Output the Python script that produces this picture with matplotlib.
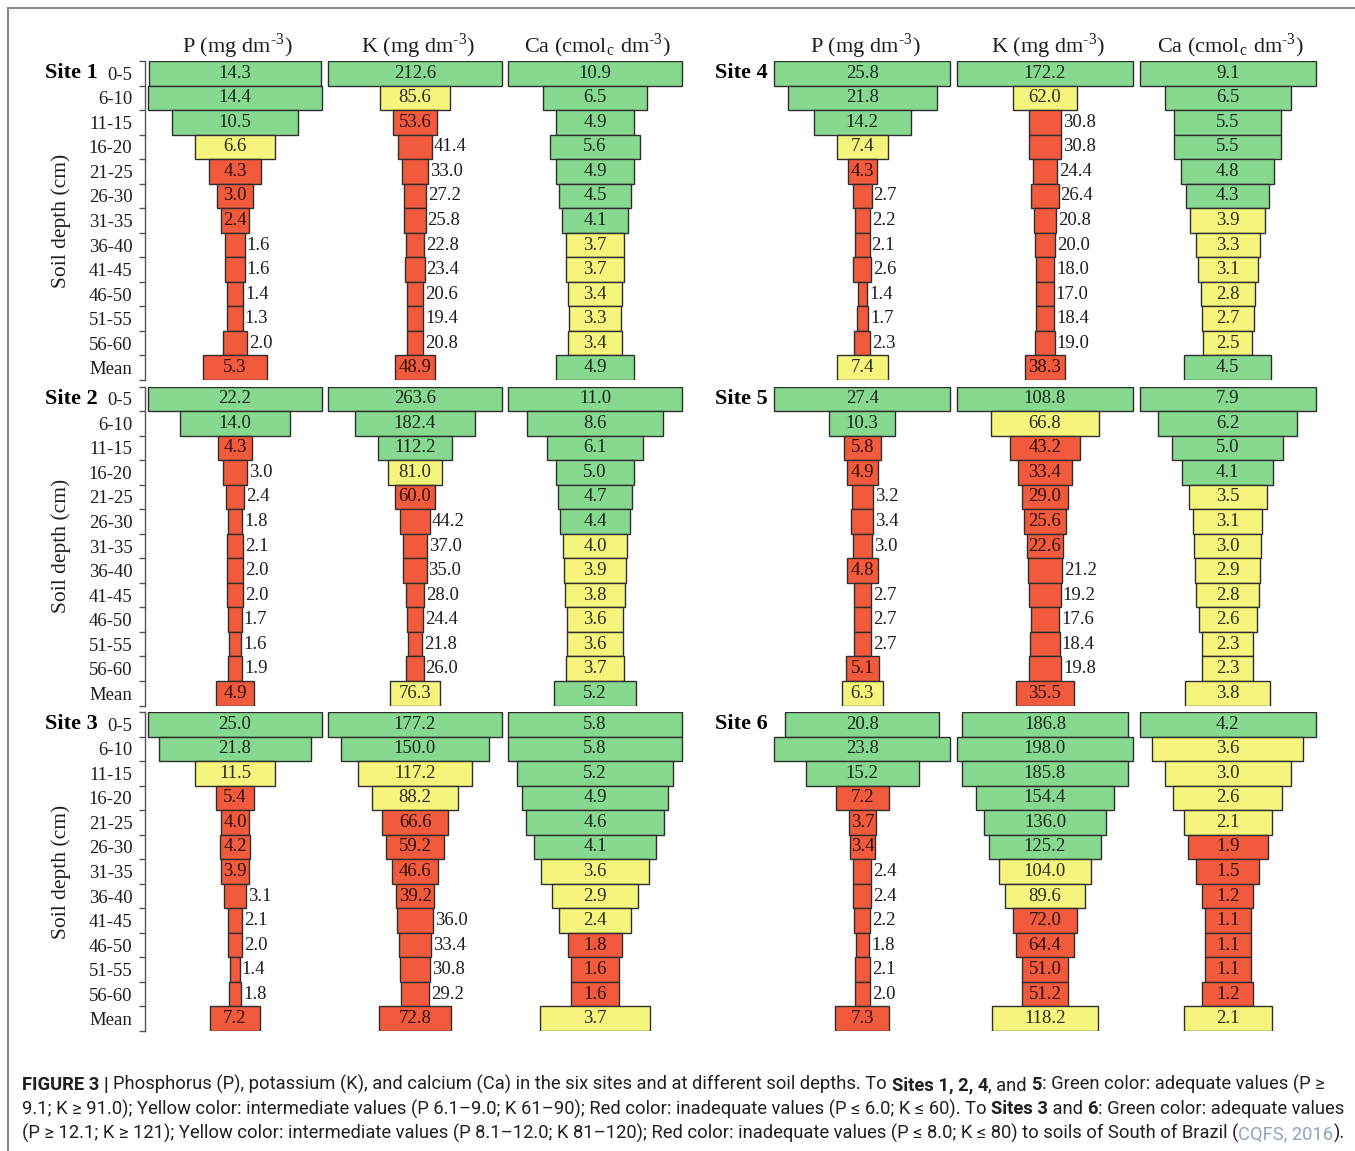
import matplotlib
matplotlib.use("Agg")
import matplotlib.pyplot as plt
from matplotlib import font_manager
from matplotlib.lines import Line2D
import numpy as np

plt.rcParams["font.family"] = ["Liberation Serif", "DejaVu Serif"]
plt.rcParams["mathtext.fontset"] = "stix"

FIG_W, FIG_H = 1355, 1151

DEPTHS = ["0-5", "6-10", "11-15", "16-20", "21-25", "26-30", "31-35",
          "36-40", "41-45", "46-50", "51-55", "56-60", "Mean"]
SITES = ["Site 1", "Site 2", "Site 3", "Site 4", "Site 5", "Site 6"]
HEADERS = ["P (mg dm$^{\\mathregular{\u20103}}$)",
           "K (mg dm$^{\\mathregular{\u20103}}$)",
           "Ca (cmol$_{\\mathregular{c}}$ dm$^{\\mathregular{\u20103}}$)"]

# values per depth layer, last entry is the profile mean
p_site1 = [14.3, 14.4, 10.5, 6.6, 4.3, 3.0, 2.4, 1.6, 1.6, 1.4, 1.3, 2.0, 5.3]
k_site1 = [212.6, 85.6, 53.6, 41.4, 33.0, 27.2, 25.8, 22.8, 23.4, 20.6, 19.4, 20.8, 48.9]
ca_site1 = [10.9, 6.5, 4.9, 5.6, 4.9, 4.5, 4.1, 3.7, 3.7, 3.4, 3.3, 3.4, 4.9]

p_site2 = [22.2, 14.0, 4.3, 3.0, 2.4, 1.8, 2.1, 2.0, 2.0, 1.7, 1.6, 1.9, 4.9]
k_site2 = [263.6, 182.4, 112.2, 81.0, 60.0, 44.2, 37.0, 35.0, 28.0, 24.4, 21.8, 26.0, 76.3]
ca_site2 = [11.0, 8.6, 6.1, 5.0, 4.7, 4.4, 4.0, 3.9, 3.8, 3.6, 3.6, 3.7, 5.2]

p_site3 = [25.0, 21.8, 11.5, 5.4, 4.0, 4.2, 3.9, 3.1, 2.1, 2.0, 1.4, 1.8, 7.2]
k_site3 = [177.2, 150.0, 117.2, 88.2, 66.6, 59.2, 46.6, 39.2, 36.0, 33.4, 30.8, 29.2, 72.8]
ca_site3 = [5.8, 5.8, 5.2, 4.9, 4.6, 4.1, 3.6, 2.9, 2.4, 1.8, 1.6, 1.6, 3.7]

p_site4 = [25.8, 21.8, 14.2, 7.4, 4.3, 2.7, 2.2, 2.1, 2.6, 1.4, 1.7, 2.3, 7.4]
k_site4 = [172.2, 62.0, 30.8, 30.8, 24.4, 26.4, 20.8, 20.0, 18.0, 17.0, 18.4, 19.0, 38.3]
ca_site4 = [9.1, 6.5, 5.5, 5.5, 4.8, 4.3, 3.9, 3.3, 3.1, 2.8, 2.7, 2.5, 4.5]

p_site5 = [27.4, 10.3, 5.8, 4.9, 3.2, 3.4, 3.0, 4.8, 2.7, 2.7, 2.7, 5.1, 6.3]
k_site5 = [108.8, 66.8, 43.2, 33.4, 29.0, 25.6, 22.6, 21.2, 19.2, 17.6, 18.4, 19.8, 35.5]
ca_site5 = [7.9, 6.2, 5.0, 4.1, 3.5, 3.1, 3.0, 2.9, 2.8, 2.6, 2.3, 2.3, 3.8]

p_site6 = [20.8, 23.8, 15.2, 7.2, 3.7, 3.4, 2.4, 2.4, 2.2, 1.8, 2.1, 2.0, 7.3]
k_site6 = [186.8, 198.0, 185.8, 154.4, 136.0, 125.2, 104.0, 89.6, 72.0, 64.4, 51.0, 51.2, 118.2]
ca_site6 = [4.2, 3.6, 3.0, 2.6, 2.1, 1.9, 1.5, 1.2, 1.1, 1.1, 1.1, 1.2, 2.1]

SITE_DATA = [
    (p_site1, k_site1, ca_site1),
    (p_site2, k_site2, ca_site2),
    (p_site3, k_site3, ca_site3),
    (p_site4, k_site4, ca_site4),
    (p_site5, k_site5, ca_site5),
    (p_site6, k_site6, ca_site6),
]

# interpretation limits (upper bound of "inadequate", upper bound of "intermediate")
P_LIMITS = {"a": (6.0, 9.0), "b": (8.0, 12.0)}
K_LIMITS = {"a": (60.0, 90.0), "b": (80.0, 120.0)}
CA_LIMITS = (2.0, 4.0)
SITE_CLASS = ["a", "a", "b", "a", "a", "b"]

GREEN = "#86d98f"
YELLOW = "#f5f47c"
RED = "#f15a3c"
EDGE = "#2e2e2e"
FRAME = "#8a8a8a"

VALUE_SIZE = 13.5
DIGIT_PX = 11.6   # room a label needs per digit before it moves outside the bar
CENTERS = np.array([0.5, 1.5, 2.5])
BAR_SPAN = 0.965


def classify(value, limits):
    low, mid = limits
    if value <= low:
        return RED
    if value <= mid:
        return YELLOW
    return GREEN


def draw_site(fig, ax, idx):
    rows = np.arange(len(DEPTHS))
    group = SITE_CLASS[idx]
    limits = [P_LIMITS[group], K_LIMITS[group], CA_LIMITS]
    px_per_unit = ax.bbox.width / 3.0

    for j, vals in enumerate(SITE_DATA[idx]):
        vals = np.asarray(vals, dtype=float)
        widths = vals / vals.max() * BAR_SPAN
        lefts = CENTERS[j] - widths / 2
        colors = [classify(v, limits[j]) for v in vals]
        ax.barh(rows, widths, left=lefts, height=1.0, color=colors,
                edgecolor=EDGE, linewidth=1.0, zorder=2)

        for r, v in enumerate(vals):
            label = f"{v:.1f}"
            room = DIGIT_PX * sum(c.isdigit() for c in label) + 1.2
            if widths[r] * px_per_unit >= room:
                ax.text(CENTERS[j], r, label, ha="center", va="center",
                        fontsize=VALUE_SIZE, color="black", alpha=0.82, zorder=3)
            else:
                ax.text(lefts[r] + widths[r] + 2.0 / px_per_unit, r, label,
                        ha="left", va="center", fontsize=VALUE_SIZE,
                        color="#1e1e1e", zorder=3)

    ax.set_xlim(0, 3)
    ax.set_ylim(len(DEPTHS) - 0.5, -0.5)
    for side in ["top", "right", "bottom"]:
        ax.spines[side].set_visible(False)
    ax.set_xticks([])
    ax.patch.set_visible(False)

    if idx < 3:
        ax.spines["left"].set_color("#555555")
        ax.spines["left"].set_linewidth(1.0)
        ax.set_yticks(rows)
        ax.set_yticklabels(DEPTHS, fontsize=13.5, color="#1e1e1e")
        ax.set_yticks(np.arange(-0.5, len(DEPTHS)), minor=True)
        ax.tick_params(axis="y", which="major", length=0, pad=9)
        ax.tick_params(axis="y", which="minor", length=4, width=1.0,
                       color="#555555")
        ax.text(-47.0 / ax.bbox.width, 0, SITES[idx], transform=ax.get_yaxis_transform(),
                ha="right", va="center", fontsize=16, fontweight="bold")
        ax.text(-84.0 / ax.bbox.width, 6, "Soil depth (cm)",
                transform=ax.get_yaxis_transform(), rotation=90,
                ha="center", va="center", fontsize=15.5, color="#1e1e1e")
    else:
        ax.spines["left"].set_visible(False)
        ax.set_yticks([])
        ax.text(-3.0 / ax.bbox.width, 0, SITES[idx], transform=ax.get_yaxis_transform(),
                ha="right", va="center", fontsize=16, fontweight="bold")

    if idx % 3 == 0:
        for j, head in enumerate(HEADERS):
            ax.annotate(head, xy=(CENTERS[j], 1.0), xycoords=("data", "axes fraction"),
                        xytext=(2, 6), textcoords="offset points",
                        ha="center", va="baseline", fontsize=16, color="#1e1e1e")


def text_advance(fig, renderer, s, **kw):
    a = fig.text(0, 0, "|" + s + "|", **kw)
    b = fig.text(0, 0, "||", **kw)
    w = a.get_window_extent(renderer).width - b.get_window_extent(renderer).width
    a.remove()
    b.remove()
    return w


def draw_rich_line(fig, renderer, x_px, y_px, segments, size, family):
    x = x_px
    for s, weight, color in segments:
        kw = dict(fontsize=size, fontweight=weight, color=color, family=family)
        fig.text(x / FIG_W, 1 - y_px / FIG_H, s, ha="left", va="baseline", **kw)
        x += text_advance(fig, renderer, s, **kw)


fig = plt.figure(figsize=(FIG_W / 100, FIG_H / 100), dpi=100)
renderer = fig.canvas.get_renderer()

for idx in range(6):
    col, row = divmod(idx, 3)
    x0, w = (145, 540) if col == 0 else (771, 548)
    top = 61 + 325.5 * row
    h = 319
    ax = fig.add_axes([x0 / FIG_W, 1 - (top + h) / FIG_H, w / FIG_W, h / FIG_H])
    draw_site(fig, ax, idx)

# outer frame (left and top edges)
fig.add_artist(Line2D([8 / FIG_W, 8 / FIG_W], [0, 1 - 8 / FIG_H],
                      transform=fig.transFigure, color=FRAME, linewidth=1.5))
fig.add_artist(Line2D([8 / FIG_W, 1], [1 - 8 / FIG_H, 1 - 8 / FIG_H],
                      transform=fig.transFigure, color=FRAME, linewidth=1.5))

available = {f.name for f in font_manager.fontManager.ttflist}
cap_family = ["Liberation Sans Narrow"] if "Liberation Sans Narrow" in available else ["Roboto", "DejaVu Sans"]
TXT = "#231f20"
LINK = "#8fa5c0"
caption = [
    [("FIGURE 3 | ", "bold", TXT),
     ("Phosphorus (P), potassium (K), and calcium (Ca) in the six sites and at different soil depths. To ", "normal", TXT),
     ("Sites 1, 2, 4", "bold", TXT), (", and ", "normal", TXT), ("5", "bold", TXT),
     (": Green color: adequate values (P \u2265", "normal", TXT)],
    [("9.1; K \u2265 91.0); Yellow color: intermediate values (P 6.1\u20139.0; K 61\u201390); Red color: inadequate values (P \u2264 6.0; K \u2264 60). To ", "normal", TXT),
     ("Sites 3", "bold", TXT), (" and ", "normal", TXT), ("6", "bold", TXT),
     (": Green color: adequate values", "normal", TXT)],
    [("(P \u2265 12.1; K \u2265 121); Yellow color: intermediate values (P 8.1\u201312.0; K 81\u2013120); Red color: inadequate values (P \u2264 8.0; K \u2264 80) to soils of South of Brazil (", "normal", TXT),
     ("CQFS, 2016", "normal", LINK), (").", "normal", TXT)],
]
for i, line in enumerate(caption):
    draw_rich_line(fig, renderer, 22, 1090 + 24.5 * i, line, 13.2, cap_family)

fig.savefig("out.png", dpi=100, facecolor="white")
